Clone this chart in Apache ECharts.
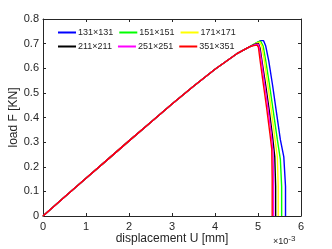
<!DOCTYPE html>
<html><head><meta charset="utf-8">
<script src="https://cdn.jsdelivr.net/npm/echarts@6/dist/echarts.min.js"></script>
<style>html,body{margin:0;padding:0;background:#fff}#c{width:332px;height:249px}</style>
</head><body><div id="c"></div>
<script>
// x in units of 1e-3 mm, y in kN
var names = ['131×131','151×151','171×171','211×211','251×251','351×351'];
var colors = ['#0000ff','#00ff00','#ffff00','#000000','#ff00ff','#ff0000'];
var rise = [[0,0],[0.5,0.077],[1,0.153],[1.5,0.229],[2,0.305],[2.5,0.38],[3,0.455],[3.5,0.527],[4,0.596],[4.5,0.658],[4.8,0.687]];
var tail131 = [[5.0,0.706],[5.06,0.712],[5.13,0.712],[5.18,0.69],[5.25,0.63],[5.34,0.53],[5.43,0.42],[5.52,0.31],[5.6,0.24],[5.64,0.12],[5.64,0]];
var tail151 = [[5.0,0.707],[5.06,0.71],[5.12,0.69],[5.18,0.63],[5.27,0.53],[5.36,0.42],[5.45,0.31],[5.52,0.23],[5.55,0.12],[5.55,0]];
var tail171 = [[4.98,0.703],[5.04,0.706],[5.09,0.69],[5.15,0.63],[5.23,0.53],[5.31,0.43],[5.39,0.32],[5.45,0.24],[5.47,0.12],[5.47,0]];
var tail211 = [[4.95,0.699],[5.01,0.701],[5.05,0.68],[5.1,0.62],[5.18,0.53],[5.26,0.43],[5.34,0.32],[5.39,0.24],[5.41,0.12],[5.41,0]];
var tail251 = [[4.95,0.697],[5.0,0.698],[5.03,0.685],[5.08,0.63],[5.15,0.54],[5.23,0.44],[5.31,0.33],[5.35,0.26],[5.36,0.15],[5.36,0]];
var tail351 = [[4.9,0.692],[4.98,0.694],[5.01,0.685],[5.05,0.63],[5.12,0.54],[5.2,0.44],[5.28,0.33],[5.32,0.27],[5.33,0.15],[5.33,0]];
var tails = [tail131,tail151,tail171,tail211,tail251,tail351];
var xTicks = [0,1,2,3,4,5,6];
var yTicks = [0,0.1,0.2,0.3,0.4,0.5,0.6,0.7,0.8];

var chart = echarts.init(document.getElementById('c'));
var ax = '#262626';
var font = 'Liberation Sans, Arial, Helvetica, sans-serif';
function xa(pos, show){
  return {type:'value', position:pos, min:0, max:6, interval:1,
    axisLine:{show:true,onZero:false,lineStyle:{color:ax,width:1}},
    axisTick:{show:true,inside:true,length:3,lineStyle:{color:ax}},
    splitLine:{show:false},
    axisLabel:{show:show,color:ax,fontSize:11,fontFamily:font,margin:5},
    name: show?'displacement U [mm]':'', nameLocation:'middle', nameGap:17, nameMoveOverlap:false,
    nameTextStyle:{color:ax,fontSize:12,fontFamily:font}};
}
function ya(pos, show){
  return {type:'value', position:pos, min:0, max:0.8, interval:0.1,
    axisLine:{show:true,onZero:false,lineStyle:{color:ax,width:1}},
    axisTick:{show:true,inside:true,length:3,lineStyle:{color:ax}},
    splitLine:{show:false},
    axisLabel:{show:show,color:ax,fontSize:11,fontFamily:font,margin:4,
      formatter:function(v){return v===0?'0':v.toFixed(1);}},
    name: show?'load F [KN]':'', nameLocation:'middle', nameGap:23, nameMoveOverlap:false,
    nameTextStyle:{color:ax,fontSize:12,fontFamily:font}};
}
var series = names.map(function(n,i){
  return {name:n, type:'line', data:rise.concat(tails[i]), showSymbol:false, symbol:'none',
    lineStyle:{color:colors[i],width:1.4}, itemStyle:{color:colors[i]}, animation:false, z:2+i};
});
function leg(data, top){
  return {data:data, top:top, left:58, orient:'horizontal', itemWidth:18, itemHeight:2, itemGap:6,
    icon:'rect', textStyle:{fontSize:9,color:ax,fontFamily:font,padding:[0,0,0,-3]}, padding:0};
}
chart.setOption({
  animation:false,
  grid:{left:43,right:31,top:19,bottom:33,containLabel:false,outerBoundsMode:'none'},
  xAxis:[xa('bottom',true), xa('top',false)],
  yAxis:[ya('left',true), ya('right',false)],
  legend:[leg(names.slice(0,3),28), leg(names.slice(3,6),42)],
  series:series,
  graphic:[{type:'text', left:273, top:235, style:{text:'×10{s|-3}', fill:ax, fontSize:9, fontFamily:font,
    rich:{s:{fontSize:8, fill:ax, fontFamily:font, verticalAlign:'top', padding:[0,0,6,0]}}}}]
});
</script></body></html>
